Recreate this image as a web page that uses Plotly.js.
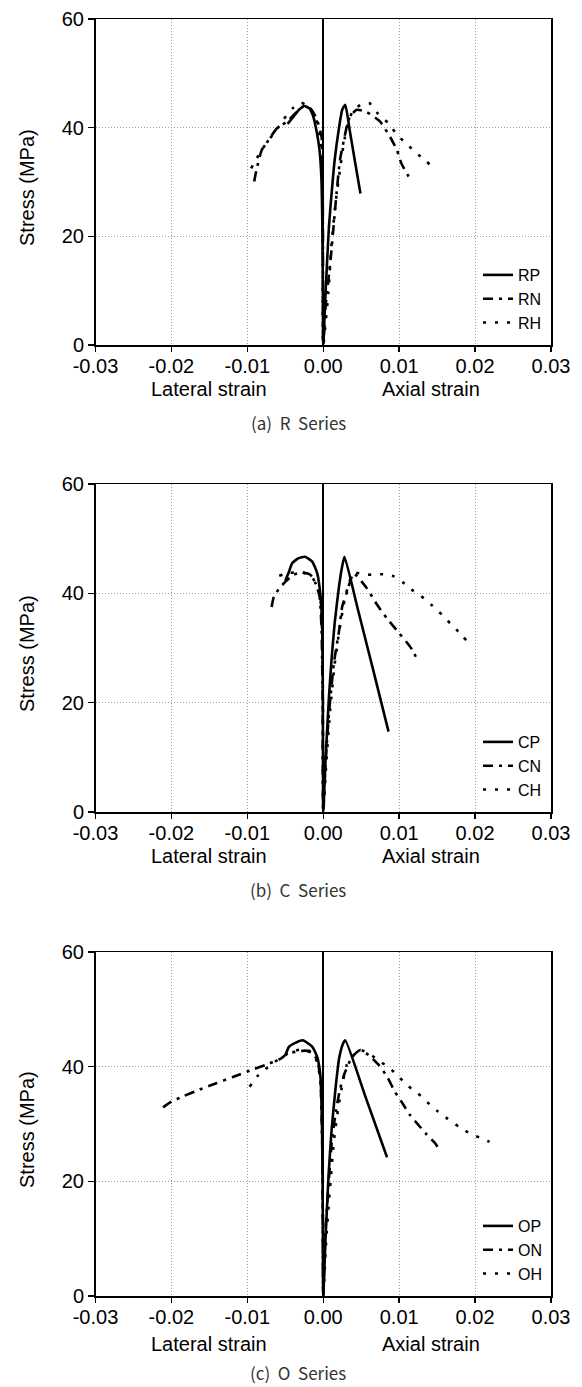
<!DOCTYPE html>
<html>
<head>
<meta charset="utf-8">
<script src="https://cdn.plot.ly/plotly-3.0.1.min.js"></script>
<style>html,body{margin:0;padding:0;background:#fff;}#chart{width:582px;height:1387px;}</style>
</head>
<body>
<div id="chart"></div>
<script>
// ---- tick labels ----
const xTickVals = [-0.03, -0.02, -0.01, 0.00, 0.01, 0.02, 0.03];
const xTickText = ["-0.03", "-0.02", "-0.01", "0.00", "0.01", "0.02", "0.03"];
const yTickVals = [0, 20, 40, 60];
const panelCaptions = ["(a)  R  Series", "(b)  C  Series", "(c)  O  Series"];
const seriesNames = [["RP", "RN", "RH"], ["CP", "CN", "CH"], ["OP", "ON", "OH"]];

// ---- R series (lateral strain negative, axial strain positive) ----
const RP_x = [-0.0047, -0.0040, -0.0032, -0.0025, -0.0018, -0.0013, -0.0009, -0.0005, -0.00025, -0.00012, -0.00005, 0,
              0.0003, 0.00075, 0.0011, 0.0015, 0.0021, 0.0025, 0.0029, 0.0035, 0.0042, 0.0049];
const RP_y = [40.7, 41.9, 43.3, 44.0, 43.5, 42.0, 39.5, 36.0, 31.0, 22.0, 10.0, 0,
              9.5, 21.8, 27.9, 34.0, 40.2, 43.3, 44.2, 39.4, 33.6, 27.9];
const RN_x = [-0.0091, -0.0088, -0.0081, -0.0072, -0.0061, -0.0048, -0.0037, -0.0026, -0.00175, -0.00088, -0.00022, -0.0001, -0.00004, 0,
              0.0003, 0.00096, 0.00175, 0.0022, 0.0031, 0.0035, 0.0044, 0.0057, 0.0075, 0.0088, 0.0097, 0.0103, 0.0116];
const RN_y = [30.1, 32.2, 35.9, 37.7, 39.9, 41.1, 42.6, 43.9, 43.6, 41.7, 38.3, 34.0, 20.0, 0,
              7.0, 15.6, 27.9, 34.0, 40.2, 42.0, 43.3, 42.9, 41.1, 38.3, 35.9, 33.4, 30.2];
const RH_x = [-0.0095, -0.0089, -0.0081, -0.0072, -0.0061, -0.0053, -0.0040, -0.0029, -0.0020, -0.0011, -0.00044, -0.00013, -0.00005, 0,
              0.00066, 0.0011, 0.00167, 0.0022, 0.0027, 0.0033, 0.0040, 0.0052, 0.0061, 0.0072, 0.0086, 0.0097, 0.0110, 0.0122, 0.0135, 0.0146];
const RH_y = [32.5, 34.0, 35.9, 37.7, 39.7, 41.4, 43.6, 44.6, 43.9, 42.3, 38.3, 34.0, 18.0, 0,
              9.5, 18.7, 26.7, 32.2, 37.1, 41.1, 43.3, 44.4, 44.5, 42.6, 40.8, 38.7, 37.0, 35.4, 33.9, 32.5];

// ---- C series ----
const CP_x = [-0.0050, -0.0045, -0.0041, -0.0033, -0.0024, -0.00145, -0.0008, -0.00035, -0.00013, -0.00005, 0,
              0.0003, 0.00075, 0.0011, 0.0015, 0.0021, 0.0025, 0.0028, 0.0045, 0.0065, 0.0086];
const CP_y = [42.3, 44.0, 45.5, 46.4, 46.7, 45.8, 43.7, 39.4, 33.3, 20.0, 0,
              9.5, 21.0, 28.0, 34.5, 41.5, 45.0, 46.7, 37.4, 26.4, 14.7];
const CN_x = [-0.0068, -0.0065, -0.0058, -0.0050, -0.0039, -0.0028, -0.0017, -0.0010, -0.00048, -0.00022, -0.00008, 0,
              0.0003, 0.00075, 0.0014, 0.0021, 0.0025, 0.0032, 0.0036, 0.0040, 0.0056, 0.0071, 0.0084, 0.0100, 0.0113, 0.0119, 0.0125];
const CN_y = [37.5, 39.4, 40.9, 42.1, 43.4, 43.8, 43.4, 41.8, 39.4, 33.3, 20.0, 0,
              8.9, 18.0, 27.2, 33.3, 37.6, 40.6, 42.4, 43.7, 41.2, 37.9, 35.4, 32.7, 30.5, 29.3, 27.3];
const CH_x = [-0.0058, -0.0047, -0.0037, -0.0027, -0.0015, -0.0009, -0.00035, -0.00012, -0.00004, 0,
              0.0004, 0.0009, 0.0015, 0.0021, 0.0027, 0.0034, 0.0040, 0.0051, 0.0065, 0.0079, 0.0093, 0.0105, 0.0116, 0.0126, 0.0136, 0.0144, 0.0157, 0.0168, 0.0178, 0.0189];
const CH_y = [43.2, 43.7, 43.8, 43.8, 43.0, 41.5, 38.8, 32.0, 18.0, 0,
              9.0, 18.5, 27.0, 33.0, 38.0, 42.0, 43.8, 43.5, 43.4, 43.5, 43.1, 42.0, 40.7, 39.8, 38.7, 37.7, 36.0, 34.4, 33.0, 31.3];

// ---- O series ----
const OP_x = [-0.0049, -0.0045, -0.0036, -0.0027, -0.00146, -0.0008, -0.00037, -0.00015, -0.00005, 0,
              0.0003, 0.0007, 0.0011, 0.0016, 0.0021, 0.0026, 0.0029, 0.0056, 0.0084];
const OP_y = [42.3, 43.5, 44.2, 44.6, 43.5, 41.7, 38.3, 28.4, 12.0, 0,
              10.0, 21.0, 29.0, 36.0, 41.5, 44.0, 44.6, 34.6, 24.2];
const ON_x = [-0.0211, -0.0200, -0.0185, -0.0163, -0.0141, -0.0119, -0.0097, -0.0076, -0.0056, -0.0047, -0.0036, -0.0023, -0.0015, -0.0008, -0.00037, -0.00015, -0.00005, 0,
              0.00028, 0.00072, 0.00115, 0.0017, 0.0022, 0.0028, 0.0038, 0.0049, 0.0060, 0.0073, 0.0084, 0.0094, 0.0103, 0.0114, 0.0125, 0.0136, 0.0147, 0.0153];
const ON_y = [32.9, 33.9, 34.8, 36.0, 37.1, 38.2, 39.3, 40.3, 41.4, 42.3, 42.6, 42.8, 42.4, 41.2, 37.7, 28.4, 12.0, 0,
              11.1, 19.8, 27.3, 32.5, 36.0, 38.8, 41.7, 42.9, 42.0, 40.3, 38.3, 35.7, 33.9, 31.6, 29.9, 28.2, 26.7, 25.5];
const OH_x = [-0.0097, -0.0087, -0.0076, -0.0065, -0.0054, -0.0042, -0.0030, -0.0018, -0.0010, -0.0004, -0.00015, -0.00005, 0,
              0.0004, 0.0009, 0.0014, 0.0020, 0.0026, 0.0031, 0.0042, 0.0049, 0.0060, 0.0075, 0.0088, 0.0099, 0.0112, 0.0125, 0.0137, 0.0151, 0.0164, 0.0179, 0.0195, 0.0211, 0.0226];
const OH_y = [36.5, 38.3, 39.6, 40.7, 41.8, 42.6, 43.0, 42.7, 41.5, 38.0, 28.0, 12.0, 0,
              10.0, 19.0, 27.0, 33.0, 37.5, 40.3, 42.3, 42.9, 42.3, 40.9, 39.7, 38.3, 36.6, 35.3, 33.8, 32.2, 30.9, 29.5, 28.2, 27.4, 26.4];

const seriesX = [[RP_x, RN_x, RH_x], [CP_x, CN_x, CH_x], [OP_x, ON_x, OH_x]];
const seriesY = [[RP_y, RN_y, RH_y], [CP_y, CN_y, CH_y], [OP_y, ON_y, OH_y]];

// ---- layout geometry (pixels) ----
const W = 582, H = 1387;
const plotLeft = 95.5, plotRight = 551;
const panelTop = [19, 484, 952];
const panelBottom = [345, 812, 1296];
const titleOffset = [44, 44, 48];
const captionOffset = [77, 77, 76];
const dashes = ["solid", "10px,6px,3px,6px", "3px,9px"];
const font = "Liberation Sans, Arial, sans-serif";

const py = p => 1 - p / H;
const traces = [];
const layout = {
  width: W, height: H,
  margin: {l: 0, r: 0, t: 0, b: 0},
  paper_bgcolor: "#fff", plot_bgcolor: "#fff",
  font: {family: font, size: 20, color: "#000"},
  showlegend: true,
  annotations: []
};

for (let p = 0; p < 3; p++) {
  const sfx = p === 0 ? "" : String(p + 1);
  const legName = "legend" + sfx;
  for (let s = 0; s < 3; s++) {
    traces.push({
      x: seriesX[p][s], y: seriesY[p][s],
      xaxis: "x" + sfx, yaxis: "y" + sfx,
      name: seriesNames[p][s],
      legend: legName,
      mode: "lines",
      line: {color: "#000", width: 2.6, dash: dashes[s], shape: "spline", smoothing: 0.5},
      hoverinfo: "skip"
    });
  }
  layout["xaxis" + sfx] = {
    domain: [plotLeft / W, plotRight / W],
    anchor: "y" + sfx,
    range: [-0.03, 0.03],
    tickvals: xTickVals, ticktext: xTickText,
    ticks: "outside", ticklen: 5, tickwidth: 1.5, tickcolor: "#000",
    ticklabelstandoff: -3,
    showline: true, linecolor: "#000", linewidth: 1.5, mirror: true,
    showgrid: true, gridcolor: "#a0a0a0", gridwidth: 1, griddash: "1px,2px",
    zeroline: true, zerolinecolor: "#000", zerolinewidth: 2.2,
    tickfont: {family: font, size: 20, color: "#000"},
    fixedrange: true
  };
  layout["yaxis" + sfx] = {
    domain: [py(panelBottom[p]), py(panelTop[p])],
    anchor: "x" + sfx,
    range: [0, 60],
    tickvals: yTickVals,
    ticks: "outside", ticklen: 6, tickwidth: 1.5, tickcolor: "#000",
    showline: true, linecolor: "#000", linewidth: 1.5, mirror: true,
    showgrid: true, gridcolor: "#a0a0a0", gridwidth: 1, griddash: "1px,2px",
    zeroline: false,
    tickfont: {family: font, size: 20, color: "#000"},
    fixedrange: true
  };
  layout[legName] = {
    x: 547 / W, xanchor: "right",
    y: py(panelBottom[p] - 5), yanchor: "bottom",
    bgcolor: "rgba(0,0,0,0)", borderwidth: 0,
    font: {family: font, size: 16, color: "#000"},
    tracegroupgap: 0, itemclick: false, itemdoubleclick: false
  };
  const midY = (panelTop[p] + panelBottom[p]) / 2 + 6;
  layout.annotations.push(
    {xref: "paper", yref: "paper", x: 27 / W, y: py(midY), text: "Stress (MPa)", textangle: -90,
     showarrow: false, xanchor: "center", yanchor: "middle", font: {family: font, size: 20, color: "#000"}},
    {xref: "x" + sfx, yref: "paper", x: -0.0150, y: py(panelBottom[p] + titleOffset[p]), text: "Lateral strain",
     showarrow: false, xanchor: "center", yanchor: "middle", font: {family: font, size: 20, color: "#000"}},
    {xref: "x" + sfx, yref: "paper", x: 0.0142, y: py(panelBottom[p] + titleOffset[p]), text: "Axial strain",
     showarrow: false, xanchor: "center", yanchor: "middle", font: {family: font, size: 20, color: "#000"}},
    {xref: "paper", yref: "paper", x: 298 / W, y: py(panelBottom[p] + captionOffset[p]), text: panelCaptions[p],
     showarrow: false, xanchor: "center", yanchor: "middle", font: {family: "Noto Sans CJK KR, Noto Sans, sans-serif", size: 17, color: "#333"}}
  );
}

Plotly.newPlot("chart", traces, layout, {staticPlot: true, displayModeBar: false});
</script>
</body>
</html>
